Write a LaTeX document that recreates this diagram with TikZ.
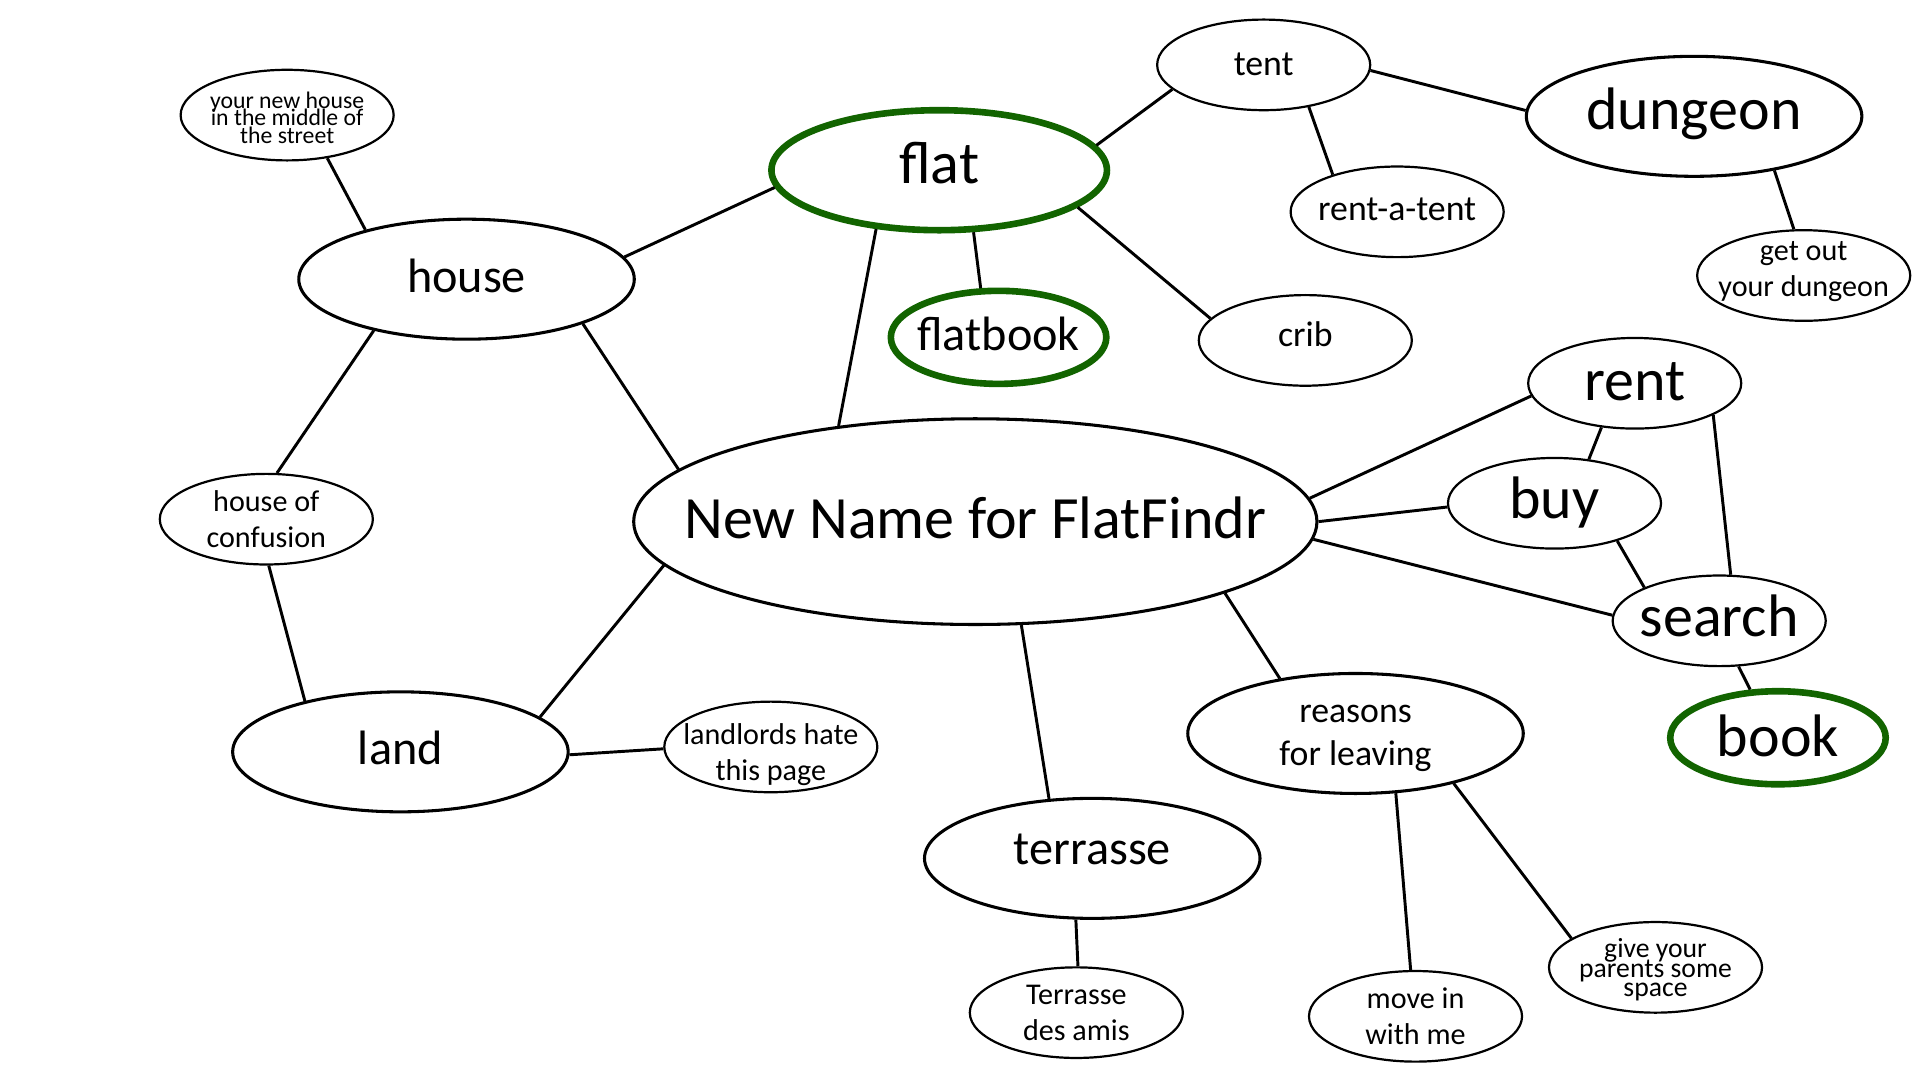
\documentclass[tikz,border=0pt]{standalone}
\usepackage{fontspec}
\setmainfont{Carlito}
\usetikzlibrary{shapes.geometric}
\definecolor{ringgreen}{RGB}{18,100,0}
\newcommand\mytightlines{\lineskiplimit=-20pt\relax}
\begin{document}
\begin{tikzpicture}[x=0.5pt,y=-0.5pt,
  base/.style={ellipse,draw,fill=white,inner sep=0pt},
  smallel/.style={base,line width=0.9pt,minimum width=87pt,minimum height=37pt},
  midel/.style={base,line width=1.25pt,minimum width=137pt,minimum height=49pt},
  greenring/.style={draw=ringgreen,line width=2.7pt},
  oneline/.style={inner sep=0pt,text height=0pt,text depth=0pt},
  bigtxt/.style={oneline,font=\fontsize{24.5}{27}\selectfont},
  midtxt/.style={oneline,font=\fontsize{19.7}{22}\selectfont},
  smtxt/.style={oneline,font=\fontsize{14.6}{16}\selectfont},
  twotxt/.style={font=\fontsize{12.3}{14.6}\selectfont,align=center,inner sep=0pt},
  reastxt/.style={font=\fontsize{14.6}{17.5}\selectfont,align=center,inner sep=0pt},
  tinytxt/.style={font={\fontsize{9.7}{7.2}\selectfont\mytightlines},align=center,inner sep=0pt},
  smalltiny/.style={font={\fontsize{11.3}{7.8}\selectfont\mytightlines},align=center,inner sep=0pt},
  link/.style={line width=1.2pt}]
\fill[white] (0,0) rectangle (1568,882);
\useasboundingbox (0,0) rectangle (1568,882);

% nodes
\node[smallel,label={[tinytxt,yshift=-1pt]center:your new house\\in the middle of\\the street}] (ynh) at (234.5,94) {};
\node[midel,label={[midtxt,yshift=-5.5pt]center:house}] (house) at (381,228) {};
\node[midel,greenring,label={[bigtxt,yshift=-5.35pt]center:flat}] (flat) at (767,139) {};
\node[smallel,label={[smtxt,yshift=-4.15pt]center:tent}] (tent) at (1032,53) {};
\node[midel,label={[bigtxt,yshift=-5.3pt]center:dungeon}] (dungeon) at (1383.5,95) {};
\node[smallel,label={[smtxt,yshift=-3.6pt]center:rent-a-tent}] (rat) at (1141,173) {};
\node[smallel,label={[twotxt,yshift=1.5pt]center:get out\\your dungeon}] (getout) at (1473,225) {};
\node[smallel,greenring,minimum width=88pt,minimum height=38pt,label={[midtxt,yshift=-5.5pt]center:flatbook}] (flatbook) at (815.5,275.5) {};
\node[smallel,label={[smtxt,yshift=-2.55pt]center:crib}] (crib) at (1066,278) {};
\node[smallel,label={[bigtxt,yshift=-7pt]center:rent}] (rent) at (1335,313) {};
\node[smallel,label={[bigtxt,yshift=-6.15pt]center:buy}] (buy) at (1269.5,411) {};
\node[base,line width=1.25pt,minimum width=279pt,minimum height=84pt,label={[bigtxt,yshift=-6.8pt]center:New Name for FlatFindr}] (nn) at (796.5,426) {};
\node[smallel,label={[twotxt]center:house of\\confusion}] (hoc) at (217.5,424) {};
\node[smallel,label={[bigtxt,yshift=-6.2pt]center:search}] (search) at (1404,507) {};
\node[smallel,greenring,minimum width=88pt,minimum height=38pt,label={[bigtxt,yshift=-7.75pt]center:book}] (book) at (1452,602.5) {};
\node[midel,label={[midtxt,yshift=-5.35pt]center:land}] (land) at (327,614) {};
\node[smallel,label={[twotxt,yshift=-3pt]center:landlords hate\\this page}] (ll) at (629.5,610) {};
\node[midel,label={[reastxt,yshift=-2pt]center:reasons\\for leaving}] (reasons) at (1107,599) {};
\node[midel,label={[midtxt,yshift=-2.7pt]center:terrasse}] (terrasse) at (892,701) {};
\node[smallel,label={[twotxt]center:Terrasse\\des amis}] (tda) at (879,827) {};
\node[smallel,label={[twotxt]center:move in\\with me}] (movein) at (1156,830) {};
\node[smallel,label={[smalltiny,yshift=-1pt]center:give your\\parents some\\space}] (give) at (1352,790) {};

% connectors
\draw[link] (ynh.-47) -- (house.154);
\draw[link] (house.8) -- (flat.186);
\draw[link] (house.209) -- (hoc.77);
\draw[link] (house.-21) -- (nn.170);
\draw[link] (hoc.-87) -- (land.152);
\draw[link] (land.14) -- (nn.188);
\draw[link] (land.-1) -- (ll.181);
\draw[link] (flat.223) -- (nn.145);
\draw[link] (flat.-61) -- (flatbook.110);
\draw[link] (flat.9) -- (tent.195);
\draw[link] (flat.-15) -- (crib.167);
\draw[link] (tent.-3) -- (dungeon.178);
\draw[link] (tent.-43) -- (rat.150);
\draw[link] (dungeon.-34) -- (getout.102);
\draw[link] (nn.-66) -- (terrasse.126);
\draw[link] (terrasse.-105) -- (tda.88);
\draw[link] (nn.-16) -- (reasons.144);
\draw[link] (reasons.-56) -- (movein.96);
\draw[link] (reasons.-27) -- (give.161);
\draw[link] (nn.4) -- (rent.187);
\draw[link] (nn.0.5) -- (buy.182);
\draw[link] (nn.-3) -- (search.177);
\draw[link] (rent.233) -- (buy.52);
\draw[link] (rent.-22) -- (search.76);
\draw[link] (buy.-31) -- (search.156);
\draw[link] (search.-67) -- (book.120);
\end{tikzpicture}
\end{document}
